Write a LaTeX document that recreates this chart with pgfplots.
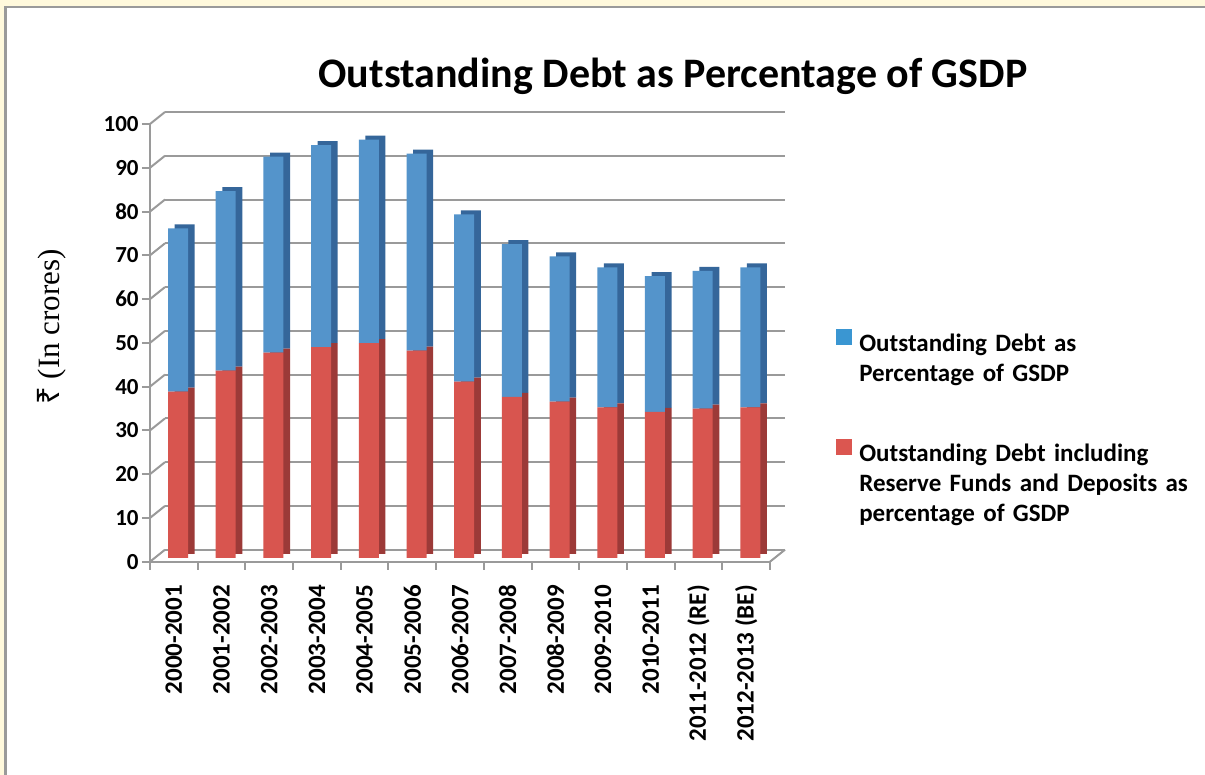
\documentclass[border=0pt]{standalone}
\usepackage{pgfplots}
\usepackage{pgfplotstable}
\pgfplotsset{compat=1.18}
\usepackage{fontspec}
\setmainfont{Carlito}
\newfontfamily\serifface{Liberation Serif}
\newfontfamily\rupeeface{Noto Sans}

\definecolor{barblue}{HTML}{5494CB}
\definecolor{sideblue}{HTML}{35669A}
\definecolor{barred}{HTML}{D8554F}
\definecolor{sidered}{HTML}{9C3A38}
\definecolor{keyblue}{HTML}{3A96D2}
\definecolor{keyred}{HTML}{DB5650}
\definecolor{framey}{HTML}{FFF9DC}
\definecolor{wallgray}{HTML}{9A9A9A}

% red = incl. reserve funds (bottom), blue = outstanding debt (stacked on top)
\pgfplotstableread{
x red blue
0 38.0 37.3
1 42.8 41.0
2 46.9 44.8
3 48.2 46.1
4 49.1 46.5
5 47.4 45.0
6 40.3 38.2
7 36.8 34.9
8 35.7 33.2
9 34.4 32.0
10 33.4 31.0
11 34.1 31.5
12 34.4 32.0
}\debt

\pgfplotsset{
  chartbox/.style={scale only axis, width=310pt, height=218.85pt,
    xmin=-0.5, xmax=12.5, ymin=0, ymax=100, anchor=south west, clip=false},
}

\begin{document}
\begin{tikzpicture}
\fill[white] (0,0) rectangle (602.5pt,387.5pt);
\fill[framey] (0,384pt) rectangle (602.5pt,387.5pt);
\fill[framey] (0,0) rectangle (2pt,387.5pt);
\draw[wallgray, line width=1.2pt] (2.7pt,0) -- (2.7pt,384pt) -- (602.5pt,384pt);

% back wall grid
\begin{axis}[chartbox, at={(82.5pt,112.65pt)},
  axis line style={draw=none}, tick style={draw=none},
  xtick=\empty, ytick={0,10,...,100}, yticklabels={},
  ymajorgrids, grid style={wallgray, line width=1pt}]
\end{axis}

% dark side faces of the bars
\begin{axis}[chartbox, at={(75pt,106.65pt)}, hide axis,
  ybar stacked, bar width=10pt, bar shift=5.4pt]
\addplot[fill=sidered, draw=none, yshift=3.85pt] table[x=x,y=red]{\debt};
\addplot[fill=sideblue, draw=none, yshift=3.85pt] table[x=x,y=blue]{\debt};
\end{axis}

% front faces, axes, labels, legend
\begin{axis}[chartbox, at={(75pt,106.65pt)},
  ybar stacked, bar width=10pt, bar shift=2.1pt,
  axis x line*=bottom, axis y line*=left,
  axis line style={wallgray, line width=1pt, -},
  tick style={wallgray, line width=1pt}, tick align=outside, major tick length=4pt,
  /pgf/number format/assume math mode=true,
  ytick={0,10,...,100},
  yticklabel style={font=\fontsize{11.5}{13}\selectfont\bfseries, inner sep=0pt, xshift=-1.5pt},
  xtick={-0.5,0.5,...,12.5}, xticklabels={},
  extra x ticks={0,...,12},
  extra x tick labels={2000-2001,2001-2002,2002-2003,2003-2004,2004-2005,2005-2006,2006-2007,2007-2008,2008-2009,2009-2010,2010-2011,2011-2012 (RE),2012-2013 (BE)},
  extra x tick style={major tick length=0pt},
  xticklabel shift=11.5pt,
  xticklabel style={rotate=90, anchor=east, inner sep=0pt,
    font=\fontsize{12.5}{14}\selectfont\bfseries},
  title={Outstanding Debt as Percentage of GSDP},
  title style={at={(0.8435,1.057)}, anchor=base, font=\fontsize{21}{25}\selectfont\bfseries},
  ylabel={{\rupeeface ₹} (In crores)},
  every axis y label/.style={at={(rel axis cs:0,0.536)}, xshift=-49pt, rotate=90,
    anchor=center, font=\fontsize{15.5}{18}\selectfont\serifface},
  legend style={at={(1.105,0.532)}, anchor=north west, draw=none, fill=none,
    inner sep=0pt, row sep=42pt, column sep=4pt,
    nodes={inner sep=0pt, text width=175pt, align=left},
    font=\fontsize{12.5}{15}\selectfont\bfseries},
  legend cell align=left,
]
\addplot[fill=barred, draw=none, yshift=1.85pt, forget plot] table[x=x,y=red]{\debt};
\addplot[fill=barblue, draw=none, yshift=1.85pt, forget plot] table[x=x,y=blue]{\debt};
\addlegendimage{legend image code/.code={\fill[keyblue] (0pt,0pt) rectangle (7.5pt,7.5pt);}}
\addlegendentry{Outstanding Debt as\\Percentage of GSDP}
\addlegendimage{legend image code/.code={\fill[keyred] (0pt,0pt) rectangle (7.5pt,7.5pt);}}
\addlegendentry{Outstanding Debt including\\Reserve Funds and Deposits as\\percentage of GSDP}
\pgfplotsinvokeforeach{0,10,...,100}{
  \draw[wallgray, line width=1pt] (axis cs:-0.5,#1) -- ++(7.5pt,6pt);
}
\draw[wallgray, line width=1pt] (axis cs:12.5,0) -- ++(7.5pt,6pt);
\end{axis}
\pgfresetboundingbox
\useasboundingbox (0,0) rectangle (602.5pt,387.5pt);
\end{tikzpicture}
\end{document}
